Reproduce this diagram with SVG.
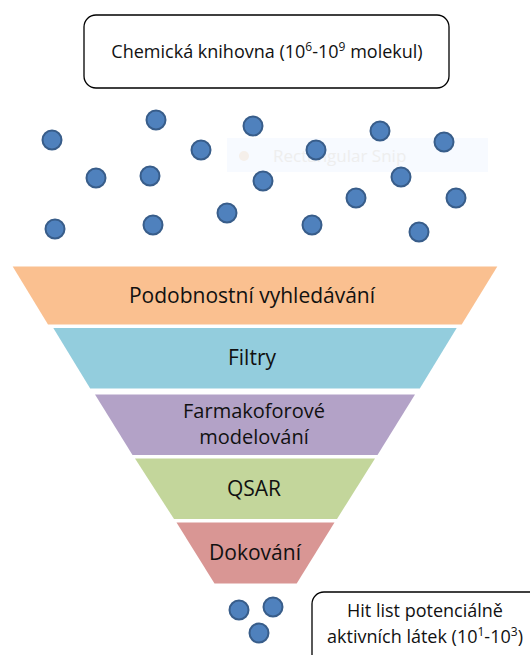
<svg xmlns="http://www.w3.org/2000/svg" width="530" height="655" viewBox="0 0 530 655">
<style>
.box{fill:#fff;stroke:#000;stroke-width:1.3}
.t{font-family:"Open Sans","Liberation Sans",sans-serif;fill:#111;text-anchor:middle}
.sm{font-size:18px}
.lg{font-size:21px}
.md{font-size:20px}
.sup{font-size:12px}
.mol{fill:#4F81BD;stroke:#385D8A;stroke-width:2}
</style>
<rect width="530" height="655" fill="#fff"/>
<g id="snip-artifact">
<rect x="227" y="138" width="261" height="34" fill="#f7faff"/>
<circle cx="244" cy="156" r="5" fill="#f5efea"/>
<text x="273" y="162" font-family="'Open Sans',sans-serif" font-size="17" fill="#eeeeee">Rectangular Snip</text>
</g>
<g id="library">
<rect class="box" x="84" y="15" width="365" height="73" rx="12"/>
<text class="t sm" x="267" y="58">Chemická knihovna (10<tspan class="sup" dy="-7">6</tspan><tspan dy="7">-10</tspan><tspan class="sup" dy="-7">9</tspan><tspan dy="7"> molekul)</tspan></text>
</g>
<g id="molecules">
<circle class="mol" cx="52" cy="140" r="9.5"/>
<circle class="mol" cx="156" cy="120" r="9.5"/>
<circle class="mol" cx="253" cy="126" r="9.5"/>
<circle class="mol" cx="380" cy="131" r="9.5"/>
<circle class="mol" cx="444" cy="142" r="9.5"/>
<circle class="mol" cx="96" cy="178" r="9.5"/>
<circle class="mol" cx="150" cy="176" r="9.5"/>
<circle class="mol" cx="201" cy="150" r="9.5"/>
<circle class="mol" cx="316" cy="150" r="9.5"/>
<circle class="mol" cx="263" cy="181" r="9.5"/>
<circle class="mol" cx="401" cy="177" r="9.5"/>
<circle class="mol" cx="356" cy="198" r="9.5"/>
<circle class="mol" cx="456" cy="198" r="9.5"/>
<circle class="mol" cx="55" cy="229" r="9.5"/>
<circle class="mol" cx="153" cy="225" r="9.5"/>
<circle class="mol" cx="227" cy="213" r="9.5"/>
<circle class="mol" cx="312" cy="225" r="9.5"/>
<circle class="mol" cx="419" cy="232" r="9.5"/>
</g>
<g id="funnel-similarity">
<polygon points="12.7,266.5 497.3,266.5 461.7,324.5 48,324.5" fill="#FAC090"/>
<text class="t lg" x="252" y="303">Podobnostní vyhledávání</text>
</g>
<g id="funnel-filters">
<polygon points="53.3,328 456.7,328 419.8,388.5 90.2,388.5" fill="#93CDDD"/>
<text class="t lg" x="252" y="365">Filtry</text>
</g>
<g id="funnel-pharmacophore">
<polygon points="95,394.5 415,394.5 377.5,455 132.5,455" fill="#B3A2C7"/>
<text class="t md" x="254" y="418">Farmakoforové</text>
<text class="t md" x="254" y="444">modelování</text>
</g>
<g id="funnel-qsar">
<polygon points="135,458.5 375,458.5 337,519 174,519" fill="#C3D69B"/>
<text class="t lg" x="254" y="496">QSAR</text>
</g>
<g id="funnel-docking">
<polygon points="176.5,522.5 334.5,522.5 296.7,583.5 214.5,583.5" fill="#D99694"/>
<text class="t lg" x="255" y="560">Dokování</text>
</g>
<g id="hits">
<circle class="mol" cx="239" cy="610" r="9.5"/>
<circle class="mol" cx="273" cy="607" r="9.5"/>
<circle class="mol" cx="259" cy="633" r="9.5"/>
</g>
<g id="hit-list">
<rect class="box" x="312" y="592" width="240" height="90" rx="12"/>
<text class="t sm" x="425" y="617">Hit list potenciálně</text>
<text class="t sm" x="425" y="643">aktivních látek (10<tspan class="sup" dy="-7">1</tspan><tspan dy="7">-10</tspan><tspan class="sup" dy="-7">3</tspan><tspan dy="7">)</tspan></text>
</g>
</svg>
